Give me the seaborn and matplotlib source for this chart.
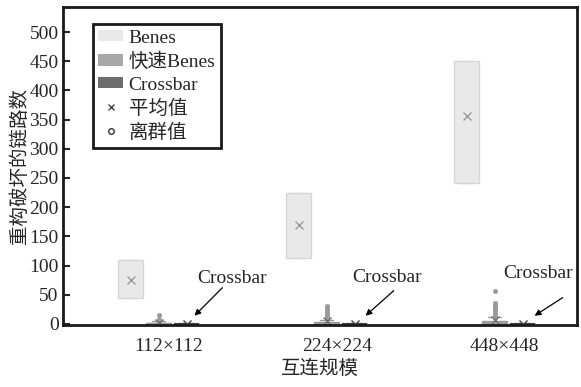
import numpy as np
import pandas as pd
import matplotlib
matplotlib.use("Agg")
import matplotlib.pyplot as plt
import seaborn as sns
from matplotlib.patches import Patch
from matplotlib.lines import Line2D

# Interconnect sizes and routing schemes
scales = ["112×112", "224×224", "448×448"]
methods = ["Benes", "快速Benes", "Crossbar"]

# Broken links after reconfiguration, per scheme and size
benes_112 = [45, 45, 65, 110, 110]
benes_224 = [113, 113, 174, 225, 225]
benes_448 = [242, 242, 399, 451, 451]

fast_112 = [0, 0, 0, 0, 0, 0, 0, 0, 0, 0, 1, 1, 1, 1, 1, 1, 2, 2, 2, 2,
            3, 3, 3, 5, 8, 16]
fast_224 = [0, 0, 0, 0, 0, 0, 0, 0, 0, 0, 0, 0, 1, 1, 1, 1, 1, 1, 1, 1,
            2, 2, 2, 2, 2, 2, 3, 3, 3, 3, 6, 9, 12, 15, 18, 21, 24, 27, 30]
fast_448 = [0, 0, 0, 0, 0, 0, 0, 0, 0, 0, 0, 0, 0, 0, 1, 1, 1, 1, 1, 1,
            1, 1, 2, 2, 2, 2, 2, 2, 3, 3, 3, 3, 8, 11, 14, 17, 20, 23, 26,
            29, 32, 35, 56]

crossbar_112 = [0, 0, 0, 0, 0]
crossbar_224 = [0, 0, 0, 0, 0]
crossbar_448 = [0, 0, 0, 0, 0]

series = {
    "Benes": [benes_112, benes_224, benes_448],
    "快速Benes": [fast_112, fast_224, fast_448],
    "Crossbar": [crossbar_112, crossbar_224, crossbar_448],
}
rows = []
for method, per_scale in series.items():
    for scale, values in zip(scales, per_scale):
        rows += [{"scale": scale, "method": method, "value": v} for v in values]
df = pd.DataFrame(rows)

palette = {"Benes": "#e9e9e9", "快速Benes": "#a8a8a8", "Crossbar": "#6d6d6d"}
edge = {"Benes": "#d6d6d6", "快速Benes": "#9a9a9a", "Crossbar": "#3c3c3c"}
mean_color = {"Benes": "#9a9a9a", "快速Benes": "#707070", "Crossbar": "#404040"}

sns.set_theme(style="ticks")
plt.rcParams["font.family"] = ["Liberation Serif", "Noto Sans CJK SC"]
plt.rcParams["axes.unicode_minus"] = False

fig, ax = plt.subplots(figsize=(5.81, 3.87), dpi=100)
fig.subplots_adjust(left=0.108, right=0.993, top=0.982, bottom=0.160)

for m in methods:
    sns.boxplot(
        data=df[df["method"] == m], x="scale", y="value", hue="method",
        order=scales, hue_order=methods, palette=palette, dodge=True,
        width=0.5, gap=0.1, linecolor=edge[m],
        linewidth=1.5 if m == "Crossbar" else 1,
        showmeans=True,
        meanprops=dict(marker="x", markeredgecolor=mean_color[m],
                       markerfacecolor=mean_color[m], markersize=6,
                       markeredgewidth=1),
        medianprops=dict(linewidth=0 if m == "Benes" else 1),
        flierprops=dict(marker="o", markersize=3, markerfacecolor="#9a9a9a",
                        markeredgecolor="#9a9a9a", markeredgewidth=0.5),
        legend=False, ax=ax,
    )

ax.set_ylim(-2, 543)
ax.set_yticks(np.arange(0, 501, 50))
ax.set_xlim(-0.57, 2.49)
ax.set_xticks(np.arange(len(scales)) + 0.06, scales)
ax.tick_params(axis="y", direction="in", length=5, width=1.5, labelsize=14, pad=3)
ax.tick_params(axis="x", length=0, labelsize=14, pad=9)
for s in ax.spines.values():
    s.set_visible(True)
    s.set_linewidth(2)
    s.set_color("#1a1a1a")

ax.set_xlabel("互连规模", fontsize=14, labelpad=4)
ax.set_ylabel("重构破坏的链路数", fontsize=14, labelpad=0)

# Callouts pointing at the Crossbar means
text_pos = [(0.44, 78), (1.36, 79), (2.26, 87)]
tail_pos = [(0.38, 62), (1.40, 57), (2.405, 45)]
tip_pos = [(0.214, 14), (1.232, 14), (2.238, 14)]
for (tx, ty), (sx, sy), (px, py) in zip(text_pos, tail_pos, tip_pos):
    ax.text(tx, ty, "Crossbar", ha="center", va="center", fontsize=14)
    ax.annotate("", xy=(px, py), xytext=(sx, sy),
                arrowprops=dict(arrowstyle="-|>", color="black", lw=0.9,
                                mutation_scale=9, shrinkA=0, shrinkB=0))

handles = [Patch(facecolor=palette[m], edgecolor="none", label=m) for m in methods]
handles += [
    Line2D([], [], ls="", marker="x", color="#333333", markersize=5,
           markeredgewidth=0.9, label="平均值"),
    Line2D([], [], ls="", marker="o", markerfacecolor="none",
           markeredgecolor="#333333", markersize=4, label="离群值"),
]
leg = ax.legend(handles=handles, loc="upper left", bbox_to_anchor=(0.058, 0.947),
                borderaxespad=0, fancybox=False, framealpha=1, edgecolor="#1a1a1a",
                fontsize=14, handlelength=1.25, handleheight=0.5,
                handletextpad=0.3, labelspacing=0.3, borderpad=0.3)
leg.get_frame().set_linewidth(2)

fig.savefig("out.png", dpi=100)
